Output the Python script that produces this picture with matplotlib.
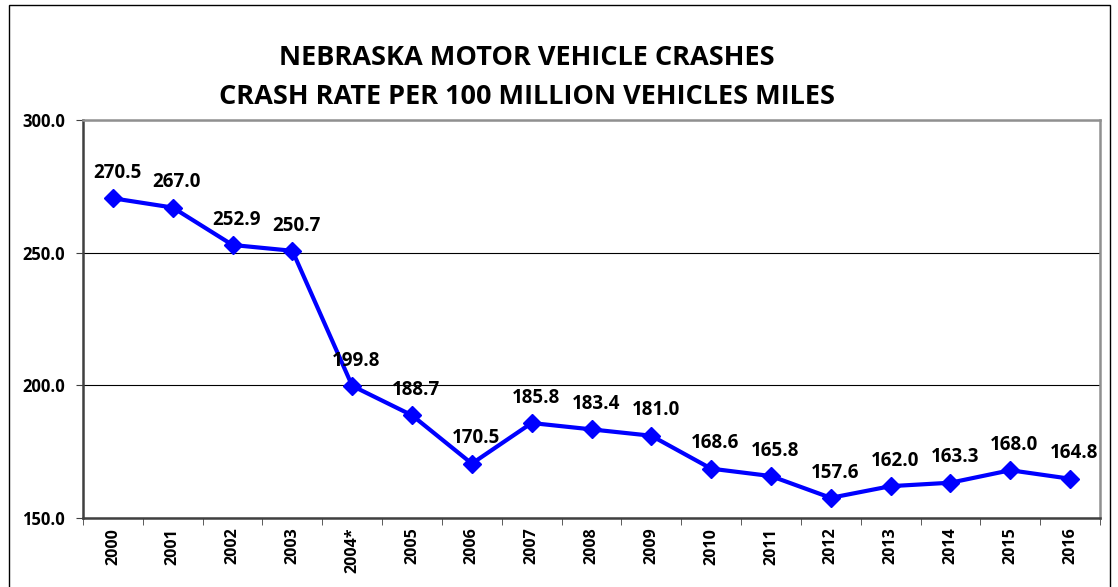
import matplotlib.pyplot as plt
from matplotlib.patches import Rectangle
import numpy as np

plt.rcParams['font.family'] = ['Open Sans', 'DejaVu Sans']

# crash rate per 100 million vehicle miles
years = ['2000', '2001', '2002', '2003', '2004*', '2005', '2006', '2007', '2008',
         '2009', '2010', '2011', '2012', '2013', '2014', '2015', '2016']
rates = [270.5, 267.0, 252.9, 250.7, 199.8, 188.7, 170.5, 185.8, 183.4,
         181.0, 168.6, 165.8, 157.6, 162.0, 163.3, 168.0, 164.8]

W, H = 1118, 587
fig = plt.figure(figsize=(W/100, H/100), dpi=100)
ax = fig.add_axes([83/W, 1-518/H, (1100-83)/W, (518-120)/H])

# outer border of the chart
fig.patches.append(Rectangle((9/W, -0.05), (1110-9)/W, 1.05-5/H, transform=fig.transFigure,
                             fill=False, edgecolor='black', linewidth=1.0))

x = np.arange(len(years))
ax.plot(x, rates, color='#0000ff', linewidth=3, marker='D', markersize=9.5, zorder=3)
for xi, r in zip(x, rates):
    ax.annotate('%.1f' % r, (xi, r), xytext=(3, 11), textcoords='offset points',
                ha='center', va='bottom', fontsize=13.5, fontweight='bold')

ax.set_xlim(-0.5, len(years)-0.5)
ax.set_ylim(150, 300)
ax.set_yticks([150, 200, 250, 300])
ax.set_yticklabels(['%.1f' % v for v in [150, 200, 250, 300]], fontsize=12, fontweight='bold')
ax.set_xticks(x)
ax.set_xticklabels(years, rotation=90, fontsize=11.5, fontweight='bold')
ax.set_xticks(np.arange(-0.5, len(years)), minor=True)
ax.tick_params(axis='x', which='major', length=0, pad=7)
ax.tick_params(axis='x', which='minor', length=5, color='#404040', direction='out')
ax.tick_params(axis='y', length=5, color='#404040', direction='out', pad=8)

ax.grid(axis='y', color='black', linewidth=0.8)
ax.set_axisbelow(True)
for s in ['left', 'bottom']:
    ax.spines[s].set_color('#404040')
    ax.spines[s].set_linewidth(1.8)
for s in ['top', 'right']:
    ax.spines[s].set_color('#909090')
    ax.spines[s].set_linewidth(1.8)

fig.text(527/W, 1-58/H, 'NEBRASKA MOTOR VEHICLE CRASHES', ha='center', va='center',
         fontsize=19.5, fontweight='bold')
fig.text(527/W, 1-97/H, 'CRASH RATE PER 100 MILLION VEHICLES MILES', ha='center', va='center',
         fontsize=19.5, fontweight='bold')

fig.savefig('out.png', dpi=100)
